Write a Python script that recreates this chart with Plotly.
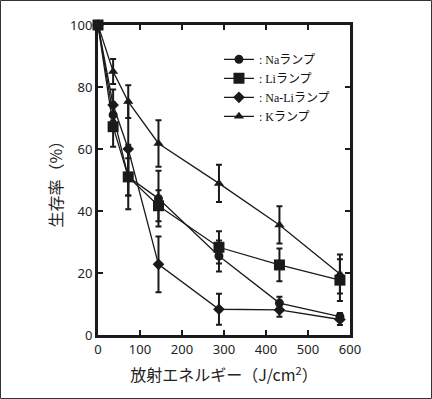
import plotly.graph_objects as go

# Data
energy = [0, 36, 72, 144, 288, 432, 576]
na_vals = [100, 71, 51, 44, 25.5, 10.3, 5.9]
na_err = [0, 4, 6, 9, 5, 2, 1.2]
li_vals = [100, 67.2, 51, 41.7, 28.3, 22.6, 17.7]
li_err = [0, 6.5, 10.4, 5, 5.2, 5.3, 6.7]
nali_vals = [100, 74.2, 60, 22.8, 8.3, 8.1, 5]
nali_err = [0, 5, 15, 9, 5, 2.2, 1.8]
k_vals = [100, 85, 75.3, 61.8, 48.9, 35.5, 19.7]
k_err = [0, 4, 5.3, 7.5, 6, 6, 6.3]

series = [
    (": Naランプ", na_vals, na_err, "circle", 9),
    (": Liランプ", li_vals, li_err, "square", 11),
    (": Na-Liランプ", nali_vals, nali_err, "diamond", 9),
    (": Kランプ", k_vals, k_err, "triangle-up", 9),
]

x_ticks = [0, 100, 200, 300, 400, 500, 600]
y_ticks = [0, 20, 40, 60, 80, 100]

fig = go.Figure()
for name, vals, err, sym, size in series:
    fig.add_trace(go.Scatter(
        x=energy, y=vals, name=name, mode="lines+markers",
        line=dict(color="#1a1a1a", width=1.3),
        marker=dict(symbol=sym, size=size, color="#1a1a1a"),
        error_y=dict(type="data", array=err, visible=True,
                     color="#1a1a1a", thickness=2, width=3),
        cliponaxis=False,
    ))

L, R, T, B = 98, 82, 25, 64
W, H = 432, 399
pw, ph = W - L - R, H - T - B

axis_common = dict(
    showgrid=False, zeroline=False, showline=True, linecolor="#1a1a1a",
    linewidth=3, mirror="ticks", ticks="inside", ticklen=5, tickwidth=2,
    tickcolor="#1a1a1a",
    tickfont=dict(family="Noto Sans, sans-serif", size=13, color="#222"),
)

fig.update_layout(
    width=W, height=H,
    margin=dict(l=L, r=R, t=T, b=B),
    paper_bgcolor="white", plot_bgcolor="white",
    xaxis=dict(range=[0, 600], tickvals=x_ticks, **axis_common,
               title=dict(text="放射エネルギー（J/cm<sup>2</sup>）",
                          font=dict(family="Noto Sans CJK JP", size=16, color="#222"),
                          standoff=14)),
    yaxis=dict(range=[0, 100], tickvals=y_ticks, **axis_common,
               title=dict(text="生存率（%）",
                          font=dict(family="Noto Sans CJK JP", size=16, color="#222"),
                          standoff=4)),
    showlegend=True,
    legend=dict(x=0.48, y=0.936, xanchor="left", yanchor="top",
                bgcolor="rgba(0,0,0,0)",
                font=dict(family="Liberation Serif, Noto Sans CJK JP", size=12, color="#111"),
                tracegroupgap=0, itemwidth=30),
    shapes=[dict(type="rect", xref="paper", yref="paper",
                 x0=(0.5 - L) / pw, x1=(W - 0.5 - L) / pw,
                 y0=-(B - 0.5) / ph, y1=1 + (T - 0.5) / ph,
                 line=dict(color="#333", width=1), layer="below")],
)

fig.write_html("out.html",
               config={"displayModeBar": False, "staticPlot": True},
               post_script="document.body.style.margin='0';document.body.style.overflow='hidden';")
